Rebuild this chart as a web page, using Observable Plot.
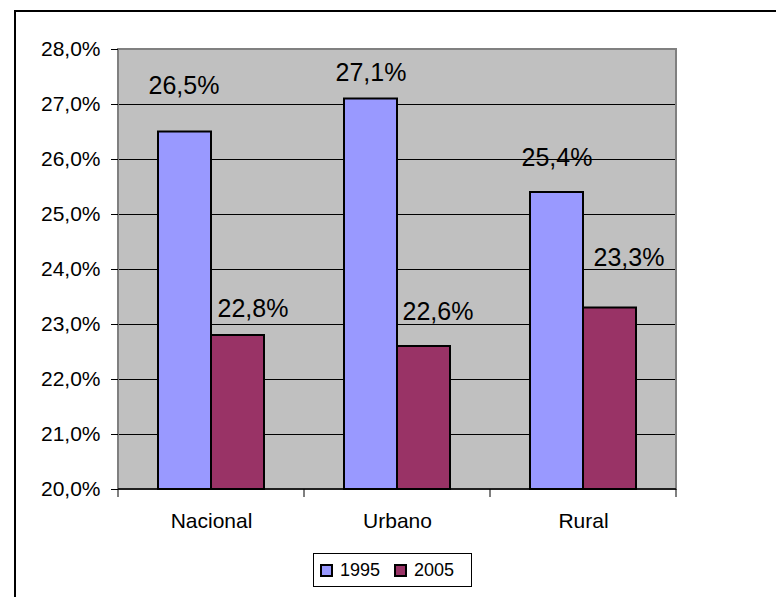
<!DOCTYPE html>
<html>
<head>
<meta charset="utf-8">
<script src="https://cdn.jsdelivr.net/npm/d3@7"></script>
<script src="https://cdn.jsdelivr.net/npm/@observablehq/plot@0.6"></script>
<style>
html, body { margin: 0; padding: 0; background: #fff; overflow: hidden; width: 776px; height: 597px; }
#wrap { position: relative; width: 776px; height: 597px; font-family: "Liberation Sans", Arial, sans-serif; overflow: hidden; }
#border { position: absolute; left: 14px; top: 10px; width: 900px; height: 800px; border-left: 2.5px solid #000; border-top: 2.5px solid #000; box-sizing: border-box; }
#chart { position: absolute; left: 0; top: 0; }
#legend { position: absolute; left: 313px; top: 553px; width: 159px; height: 34px; border: 1px solid #000; box-sizing: border-box; background: #fff; display: flex; align-items: center; font-size: 18px; color: #000; }
.sw { width: 13px; height: 13px; border: 2px solid #000; box-sizing: border-box; display: inline-block; }
</style>
</head>
<body>
<div id="wrap">
  <div id="border"></div>
  <div id="chart"></div>
  <div id="legend"></div>
</div>
<script>
// ---- data ----
const categories = ["Nacional", "Urbano", "Rural"];
const years = ["1995", "2005"];
const values1995 = [26.5, 27.1, 25.4];
const values2005 = [22.8, 22.6, 23.3];
const yTicks = [20, 21, 22, 23, 24, 25, 26, 27, 28];
const colors = ["#9999FF", "#993366"];

const data = categories.flatMap((c, i) => [
  {cat: c, year: years[0], value: values1995[i]},
  {cat: c, year: years[1], value: values2005[i]}
]);

const fmt = v => v.toFixed(1).replace(".", ",") + "%";

// label placement nudges (px) [dx, dy], as in the original layout
const labelNudge = {
  "Nacional|1995": [-1, -46], "Nacional|2005": [15, -27],
  "Urbano|1995": [0, -26.5], "Urbano|2005": [14, -35],
  "Rural|1995": [0, -34.5], "Rural|2005": [19, -50]
};

const W = 776, H = 545;
const chart = Plot.plot({
  width: W, height: H,
  marginLeft: 117, marginRight: 99, marginTop: 49, marginBottom: 56,
  style: {fontFamily: "'Liberation Sans', Arial, sans-serif", fontSize: "21px", color: "#000", background: "transparent", overflow: "visible"},
  fx: {domain: categories, paddingInner: 0, paddingOuter: 0, label: null},
  x: {domain: years, paddingInner: 0, paddingOuter: 0.744, axis: null},
  y: {domain: [20, 28], label: null},
  color: {domain: years, range: colors},
  marks: [
    Plot.ruleY(yTicks.slice(1, -1), {stroke: "#000", strokeWidth: 1}),
    Plot.barY(data, {fx: "cat", x: "year", y1: 20, y2: "value", fill: "year", stroke: "#000", strokeWidth: 2}),
    Plot.axisY({ticks: yTicks, tickSize: 7, tickPadding: 11, tickFormat: fmt, label: null, fontSize: 21, stroke: "#000"}),
    Plot.axisFx({anchor: "bottom", tickSize: 0, tickPadding: 24, label: null, fontSize: 21}),
    ...data.map(d => {
      const n = labelNudge[d.cat + "|" + d.year];
      return Plot.text([d], {fx: "cat", x: "year", y: "value", text: r => fmt(r.value), dx: n[0], dy: n[1], fontSize: 25, fill: "#000"});
    })
  ]
});

// plot-area background, border, bottom axis line and category boundary ticks from the plot's scales
const fx = chart.scale("fx"), y = chart.scale("y");
const bw = fx.bandwidth;
const x0 = fx.apply(categories[0]);
const x1 = fx.apply(categories[categories.length - 1]) + bw;
const yTop = y.apply(28), yBot = y.apply(20);
const svg = d3.select(chart);
svg.insert("rect", ":first-child")
  .attr("x", x0).attr("y", yTop).attr("width", x1 - x0).attr("height", yBot - yTop)
  .attr("fill", "#C0C0C0");
svg.insert("rect", "g[aria-label='bar']")
  .attr("x", x0).attr("y", yTop).attr("width", x1 - x0).attr("height", yBot - yTop)
  .attr("fill", "none").attr("stroke", "#808080").attr("stroke-width", 2);
svg.append("line")
  .attr("x1", x0).attr("x2", x1).attr("y1", yBot).attr("y2", yBot)
  .attr("stroke", "#000").attr("stroke-width", 1.5);
const bounds = categories.map(c => fx.apply(c)).concat([x1]);
svg.append("g").selectAll("line").data(bounds).join("line")
  .attr("x1", d => d).attr("x2", d => d).attr("y1", yBot).attr("y2", yBot + 8)
  .attr("stroke", "#000").attr("stroke-width", 1);

document.getElementById("chart").appendChild(chart);

// legend
const legend = document.getElementById("legend");
years.forEach((yr, i) => {
  const sw = document.createElement("span");
  sw.className = "sw";
  sw.style.background = colors[i];
  sw.style.marginLeft = i === 0 ? "6px" : "14px";
  const t = document.createElement("span");
  t.textContent = yr;
  t.style.marginLeft = "7px";
  legend.appendChild(sw);
  legend.appendChild(t);
});
</script>
</body>
</html>
